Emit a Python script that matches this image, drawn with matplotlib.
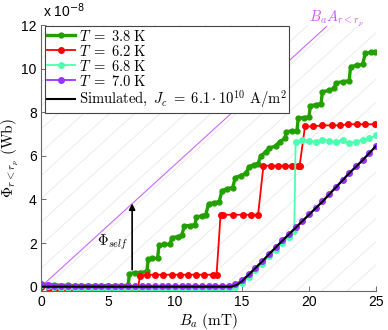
import numpy as np
import matplotlib.pyplot as plt

plt.rcParams['font.family'] = ['Liberation Sans', 'DejaVu Sans']
plt.rcParams['mathtext.fontset'] = 'cm'

# field B_a (mT) and flux (units of 1e-8 Wb)
green_x = [0, 0.5, 1, 2, 3, 4, 5, 6, 6.5,
           6.6, 7.0, 7.4, 7.9, 8.0, 8.3, 8.7, 8.8, 9.2, 9.6,
           9.8, 10.2, 10.5, 10.7, 11.1, 11.5, 11.6, 12.0, 12.3,
           12.5, 12.9, 13.3, 13.5, 13.9, 14.3, 14.5, 14.9, 15.3,
           15.5, 15.9, 16.2, 16.4, 16.8, 17.0, 17.5, 17.8, 18.2,
           18.3, 18.7, 19.1, 19.2, 19.6, 20.0, 20.1, 20.5, 20.9,
           21.0, 21.5, 21.9, 22.0, 22.5, 23.0, 23.1, 23.6, 24.0,
           24.2, 24.6, 24.9]
green_y = [0.12, 0.1, 0.08, 0.06, 0.05, 0.05, 0.05, 0.05, 0.06,
           0.6, 0.65, 0.65, 0.7, 1.25, 1.3, 1.3, 1.9, 1.95, 1.95,
           2.25, 2.3, 2.35, 2.8, 2.8, 2.85, 3.2, 3.25, 3.3,
           3.8, 3.85, 3.9, 4.4, 4.5, 4.55, 5.0, 5.1, 5.2,
           5.5, 5.6, 5.65, 6.0, 6.2, 6.35, 6.45, 6.65, 6.8,
           7.1, 7.15, 7.15, 7.75, 7.75, 7.8, 8.3, 8.35, 8.4,
           8.95, 9.0, 9.1, 9.35, 9.4, 9.45, 10.1, 10.15, 10.2,
           10.7, 10.75, 10.75]

red_x = [0, 0.6, 1.2, 1.8, 2.4, 3.0, 3.6, 4.2, 4.8, 5.4, 6.0, 6.6, 7.2,
         7.4, 7.9, 8.5, 9.1, 9.8, 10.4, 11.0, 11.6, 12.2, 12.8, 13.1,
         13.4, 13.6, 14.3, 15.1, 15.7, 16.2,
         16.6, 17.2, 17.7, 18.2, 18.7, 19.2, 19.3,
         19.7, 20.3, 21.0, 21.7, 22.3, 22.9, 23.6, 24.2, 24.9]
red_y = [0.0, -0.05, -0.1, -0.12, -0.15, -0.15, -0.17, -0.2, -0.18, -0.2, -0.2, -0.2, -0.15,
         0.5, 0.55, 0.55, 0.55, 0.55, 0.55, 0.55, 0.55, 0.55, 0.55, 0.55,
         3.3, 3.3, 3.3, 3.3, 3.3, 3.3,
         5.55, 5.55, 5.55, 5.55, 5.55, 5.55, 5.55,
         7.35, 7.35, 7.4, 7.4, 7.4, 7.45, 7.45, 7.45, 7.45]

cyan_x = [0, 0.5, 1, 1.5, 2, 2.5, 3, 3.5, 4, 4.5, 5, 5.5, 6, 6.5, 7, 7.5, 8, 8.5,
          9, 9.5, 10, 10.5, 11, 11.5, 12, 12.5, 13, 13.5, 14, 14.5, 15, 15.5,
          16, 16.5, 17, 17.5, 18, 18.5, 18.9, 19.0, 19.5, 20, 20.5, 21, 21.5,
          22, 22.5, 23, 23.5, 24, 24.5, 25]
cyan_y = [0.1, 0.05, 0.0, -0.05, -0.05, -0.08, -0.1, -0.1, -0.1, -0.12, -0.12, -0.1, -0.12,
          -0.12, -0.1, -0.12, -0.12, -0.1, -0.12, -0.12, -0.1, -0.12, -0.12, -0.1, -0.12,
          -0.12, -0.1, -0.12, -0.1, 0.0, 0.15, 0.45, 0.75, 1.05, 1.4, 1.7, 2.0, 2.3,
          2.55, 6.65, 6.75, 6.7, 6.65, 6.75, 6.7, 6.65, 6.75, 6.6, 6.65, 6.75, 6.8, 6.95]

purple_x = [0, 0.5, 1, 1.5, 2, 2.5, 3, 3.5, 4, 4.5, 5, 5.5, 6, 6.5, 7, 7.5, 8, 8.5,
            9, 9.5, 10, 10.5, 11, 11.5, 12, 12.5, 13, 13.5, 14, 14.5, 15, 15.5,
            16, 16.5, 17, 17.5, 18, 18.5, 19, 19.5, 20, 20.5, 21, 21.5, 22, 22.5,
            23, 23.5, 24, 24.5, 25]
purple_y = [0.12, 0.08, 0.05, 0.05, 0.03, 0.03, 0.03, 0.03, 0.02, 0.02, 0.02, 0.02,
            0.02, 0.02, 0.02, 0.02, 0.02, 0.02, 0.02, 0.02, 0.02, 0.02, 0.02, 0.02,
            0.02, 0.02, 0.02, 0.03, 0.05, 0.12, 0.3, 0.58, 0.88, 1.18, 1.5, 1.8,
            2.12, 2.42, 2.72, 3.02, 3.32, 3.62, 3.92, 4.25, 4.57, 4.9, 5.22, 5.52,
            5.82, 6.12, 6.45]

sim_x = [0, 14.2, 14.6, 15.0, 15.5, 16.0, 16.5, 17.0, 18.0, 19.0, 20.0, 21.0, 22.0, 23.0, 24.0, 25.0]
sim_y = [0, 0, 0.08, 0.25, 0.55, 0.85, 1.15, 1.48, 2.1, 2.7, 3.3, 3.9, 4.55, 5.2, 5.8, 6.45]

area_x = [0, 21.3]          # B_a A line
area_slope = 0.56
grid_step = 1.9             # spacing of the faint diagonal guide lines (mT)

fig = plt.figure(figsize=(3.88, 3.30), dpi=100)
ax = fig.add_axes([0.1057, 0.118, 0.8634, 0.806])

# faint diagonal guides
for x0 in np.arange(15.6 - 30 * grid_step, 26, grid_step):
    gx = np.array([-1, 40])
    ax.plot(gx, area_slope * (gx - x0), color='#e8e8e8', lw=0.6, zorder=0)

ax.plot(area_x, [area_slope * v for v in area_x], color='#cc66ff', lw=0.8, zorder=1)
ax.text(20.0, 12.3, r'$B_a A_{r<r_p}$', color='#cc55ff', fontsize=10.5, va='center', ha='left')

ax.plot(green_x, green_y, '-o', color='#22a000', lw=2.4, ms=3.5, label=r'$T\;=\;3.8\ \mathrm{K}$')
ax.plot(red_x, red_y, '-o', color='#ff0000', lw=1.3, ms=4, label=r'$T\;=\;6.2\ \mathrm{K}$')
ax.plot(cyan_x, cyan_y, '-o', color='#4dffb0', lw=1.3, ms=4, label=r'$T\;=\;6.8\ \mathrm{K}$')
ax.plot(purple_x, purple_y, '-o', color='#9933ff', lw=1.3, ms=4, label=r'$T\;=\;7.0\ \mathrm{K}$')
ax.plot(sim_x, sim_y, '-', color='k', lw=1.5,
        label=r'$\mathrm{Simulated,}\ J_c\;=\;6.1\cdot10^{10}\ \mathrm{A/m^2}$')

ax.annotate('', xy=(6.8, 3.95), xytext=(6.8, 0.65),
            arrowprops=dict(arrowstyle='-|>', color='k', lw=1.2, mutation_scale=9))
ax.text(6.5, 2.05, r'$\Phi_{self}$', fontsize=10.5, ha='right', va='center')

ax.set_xlim(0, 25)
ax.set_ylim(-0.2, 12)
ax.set_xticks([0, 5, 10, 15, 20, 25])
ax.set_yticks([0, 2, 4, 6, 8, 10, 12])
ax.tick_params(direction='in', length=3.5, width=0.6, color='#555555', labelsize=10, pad=3)
for s in ['top', 'right']:
    ax.spines[s].set_visible(False)
for s in ['left', 'bottom']:
    ax.spines[s].set_color('#666666')
    ax.spines[s].set_linewidth(0.8)

ax.set_xlabel(r'$B_a\ (\mathrm{mT})$', fontsize=11, labelpad=1)
ax.set_ylabel(r'$\Phi_{r<r_p}\ (\mathrm{Wb})$', fontsize=11, labelpad=1)
ax.text(0.005, 1.02, r'x 10$^{-8}$', transform=ax.transAxes, fontsize=10,
        ha='left', va='bottom', math_fontfamily='dejavusans')

leg = ax.legend(loc='upper left', bbox_to_anchor=(0.012, 0.995), borderaxespad=0,
                fontsize=10.5, labelspacing=0.0, handlelength=1.9, handletextpad=0.25,
                borderpad=0.15, fancybox=False, framealpha=1, edgecolor='#444444')
leg.get_frame().set_linewidth(0.8)

fig.savefig('out.png', dpi=100)
